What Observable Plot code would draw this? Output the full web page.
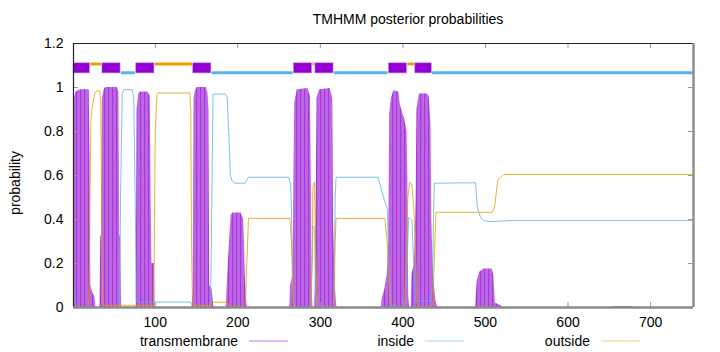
<!DOCTYPE html>
<html><head><meta charset="utf-8">
<script src="https://cdn.jsdelivr.net/npm/d3@7"></script>
<script src="https://cdn.jsdelivr.net/npm/@observablehq/plot@0.6"></script>
<style>html,body{margin:0;padding:0;background:#fff;} #chart{width:720px;height:352px;}</style>
</head><body><div id="chart"></div>
<script>
// ---- data ----
const seqLength = 752;
const titleText = "TMHMM posterior probabilities";
const yLabelText = "probability";
const xTicks = [100, 200, 300, 400, 500, 600, 700];
const xTickLabels = ["100", "200", "300", "400", "500", "600", "700"];
const yTicks = [0, 0.2, 0.4, 0.6, 0.8, 1, 1.2];
const yTickLabels = ["0", "0.2", "0.4", "0.6", "0.8", "1", "1.2"];
const legendLabels = ["transmembrane", "inside", "outside"];

// transmembrane posterior (vertices)
const tmPos = [1,2,4,9,20,21,22,24,27,28,
  33,34,35,36,38,40,54,56,57,58,59,
  77,78,80,82,91,94,95,96,99,100,
  145,146,147,149,151,162,164,165,166,169,171,
  186,187,190,192,194,204,207,208,209,211,212,
  263,264,267,268,269,272,285,288,289,290,291,
  293,294,295,296,299,312,315,316,318,320,
  374,375,378,381,383,384,386,389,395,397,400,402,405,406,407,408,
  410,411,414,416,417,420,430,432,434,435,437,440,442,
  488,489,490,493,498,508,510,512,519,521,
  653,655,678,680];
const tmProb = [0.88,0.95,0.98,0.99,0.99,0.7,0.1,0.07,0.045,0,
  0,0.32,0.33,0.95,0.99,1,1,0.98,0.33,0.32,0,
  0,0.9,0.97,0.98,0.98,0.96,0.5,0.2,0.2,0,
  0,0.1,0.95,0.99,1,1,0.97,0.9,0.1,0.08,0,
  0,0.09,0.3,0.42,0.43,0.43,0.4,0.3,0.15,0.02,0,
  0,0.1,0.15,0.6,0.93,0.99,0.995,0.96,0.6,0.1,0,
  0,0.12,0.55,0.95,0.99,0.995,0.95,0.4,0.1,0,
  0,0.04,0.08,0.15,0.3,0.88,0.95,0.985,0.98,0.92,0.88,0.86,0.8,0.6,0.05,0,
  0,0.15,0.2,0.5,0.9,0.97,0.97,0.955,0.83,0.4,0.15,0.03,0,
  0,0.064,0.12,0.16,0.175,0.175,0.15,0.02,0.008,0,
  0,0.005,0.005,0];

// inside posterior
const insidePos = [1,2,4,6,57,58,60,62,72,74,76,77,78,143,145,167,168,170,185,187,189,191,193,196,209,211,213,
  262,264,265,267,269,289,290,291,293,294,296,316,317,318,319,370,373,375,379,381,383,385,
  403,405,407,411,413,415,434,436,437,438,488,490,494,498,506,530,752];
const insideProb = [0.12,0.05,0.01,0,0,0.5,0.97,0.99,0.99,0.955,0.4,0.03,0.025,0.025,0.005,0.005,0.3,0.97,0.97,0.955,0.8,0.6,0.577,0.565,0.565,0.58,0.592,
  0.592,0.55,0.45,0.05,0,0,0.2,0.37,0.36,0.1,0,0,0.2,0.5,0.592,0.592,0.55,0.52,0.47,0.45,0.2,0.01,
  0,0.2,0.41,0.395,0.2,0.03,0.03,0.1,0.4,0.565,0.567,0.456,0.41,0.395,0.39,0.395,0.395];

// outside posterior
const outsidePos = [1,19,20,21,22,24,27,29,33,34,35,36,37,98,99,100,102,103,142,143,144,145,146,166,169,187,190,209,211,213,
  263,265,267,269,288,290,291,293,294,296,298,316,317,318,319,378,381,384,386,
  402,404,406,408,411,413,415,417,419,436,438,440,508,511,515,522,752];
const outsideProb = [0,0,0.1,0.5,0.85,0.92,0.975,0.985,0.985,0.93,0.5,0.05,0.01,0.01,0.3,0.8,0.97,0.975,0.975,0.9,0.3,0.03,0.01,0.01,0.024,0.024,0.005,0.005,0.2,0.405,
  0.405,0.3,0.02,0,0,0.2,0.55,0.57,0.3,0.02,0,0,0.1,0.3,0.405,0.405,0.3,0.05,0,
  0,0.2,0.5,0.57,0.56,0.456,0.3,0.02,0,0.01,0.2,0.433,0.433,0.456,0.58,0.605,0.605];

// predicted topology (top strip)
const tmSegStart = [1, 36, 77, 146, 268, 294, 383, 415];
const tmSegEnd   = [21, 58, 99, 168, 290, 316, 405, 435];
const insideSegStart = [59, 169, 317, 436];
const insideSegEnd   = [76, 267, 382, 752];
const outsideSegStart = [22, 100, 291, 406];
const outsideSegEnd   = [35, 145, 293, 414];

// ---- tables ----
const tmData = tmPos.map((x, i) => ({x, y: tmProb[i]}));
const insideData = insidePos.map((x, i) => ({x, y: insideProb[i]}));
const outsideData = outsidePos.map((x, i) => ({x, y: outsideProb[i]}));
const tmSegs = tmSegStart.map((s, i) => ({start: s, end: tmSegEnd[i]}));
const insideSegs = insideSegStart.map((s, i) => ({start: s, end: insideSegEnd[i]}));
const outsideSegs = outsideSegStart.map((s, i) => ({start: s, end: outsideSegEnd[i]}));

// ---- styles ----
const cTM = "#9400d3", cIn = "#56b4e9", cOut = "#e69f00";
const W = 720, H = 352, mL = 73, mR = 27, mT = 43, mB = 45;
const fw = W - mL - mR, fh = H - mT - mB, tick = 5;
const font = "'Liberation Sans', Arial, Helvetica, sans-serif";

const svgNode = Plot.plot({
  width: W, height: H,
  marginLeft: mL, marginRight: mR, marginTop: mT, marginBottom: mB,
  style: {fontFamily: font, fontSize: "14px", background: "#fff", color: "#000", overflow: "visible"},
  x: {domain: [1, seqLength]},
  y: {domain: [0, 1.2]},
  marks: [
    Plot.areaY(tmData, {x: "x", y: "y", fill: "url(#tmStripes)", curve: "linear"}),
    Plot.lineY(insideData, {x: "x", y: "y", stroke: cIn, strokeWidth: 1, strokeOpacity: 0.8, curve: "linear"}),
    Plot.lineY(outsideData, {x: "x", y: "y", stroke: cOut, strokeWidth: 1, strokeOpacity: 0.8, curve: "linear"}),
    Plot.ruleY(insideSegs, {x1: "start", x2: "end", y: 1.067, stroke: cIn, strokeWidth: 3}),
    Plot.ruleY(outsideSegs, {x1: "start", x2: "end", y: 1.107, stroke: cOut, strokeWidth: 3}),
    Plot.rect(tmSegs, {x1: "start", x2: "end", y1: 1.064, y2: 1.11, fill: cTM, stroke: "#c58ae6", strokeWidth: 0.6}),
    // inward ticks
    Plot.tickX(xTicks, {stroke: "#999", insetBottom: fh - tick}),
    Plot.tickX(xTicks, {stroke: "#999", insetTop: fh - tick}),
    Plot.tickY(yTicks, {stroke: "#999", insetRight: fw - tick}),
    Plot.tickY(yTicks, {stroke: "#999", insetLeft: fw - tick}),
    // border
    Plot.ruleY([1.2], {stroke: "#222", strokeWidth: 1}),
    Plot.ruleX([1], {stroke: "#222", strokeWidth: 1.2}),
    Plot.ruleY([0], {stroke: "#8a8a8a", strokeWidth: 2.4}),
    Plot.ruleX([seqLength], {stroke: "#8a8a8a", strokeWidth: 2.4}),
    Plot.axisX({ticks: xTicks, tickFormat: d => xTickLabels[xTicks.indexOf(d)], tickSize: 0, tickPadding: 10, label: null, fontSize: 14}),
    Plot.axisY({ticks: yTicks, tickFormat: d => yTickLabels[yTicks.indexOf(d)], tickSize: 0, tickPadding: 10, label: null, fontSize: 14})
  ]
});

const svg = d3.select(svgNode);
const defs = svg.insert("defs", ":first-child");
const pat = defs.append("pattern").attr("id", "tmStripes")
  .attr("patternUnits", "userSpaceOnUse").attr("width", 4).attr("height", 8);
pat.append("rect").attr("width", 4).attr("height", 8).attr("fill", "#bf66e5");
pat.append("rect").attr("width", 1.2).attr("height", 8).attr("fill", "#a43cd9");

svg.append("text").attr("x", 408).attr("y", 24).attr("text-anchor", "middle")
  .attr("font-family", font).attr("font-size", 14).attr("fill", "#000").text(titleText);
svg.append("text").attr("transform", "translate(20,183) rotate(-90)").attr("text-anchor", "middle")
  .attr("font-family", font).attr("font-size", 14).attr("fill", "#000").text(yLabelText);

const legendColors = [cTM, cIn, cOut];
legendLabels.forEach((lab, i) => {
  const xe = 238 + i * 176;
  svg.append("text").attr("x", xe).attr("y", 346).attr("text-anchor", "end")
    .attr("font-family", font).attr("font-size", 14).attr("fill", "#000").text(lab);
  svg.append("line").attr("x1", xe + 11).attr("x2", xe + 50).attr("y1", 341).attr("y2", 341)
    .attr("stroke", legendColors[i]).attr("stroke-opacity", 0.55).attr("stroke-width", 1.2);
});

document.getElementById("chart").appendChild(svgNode);
</script>
</body></html>
